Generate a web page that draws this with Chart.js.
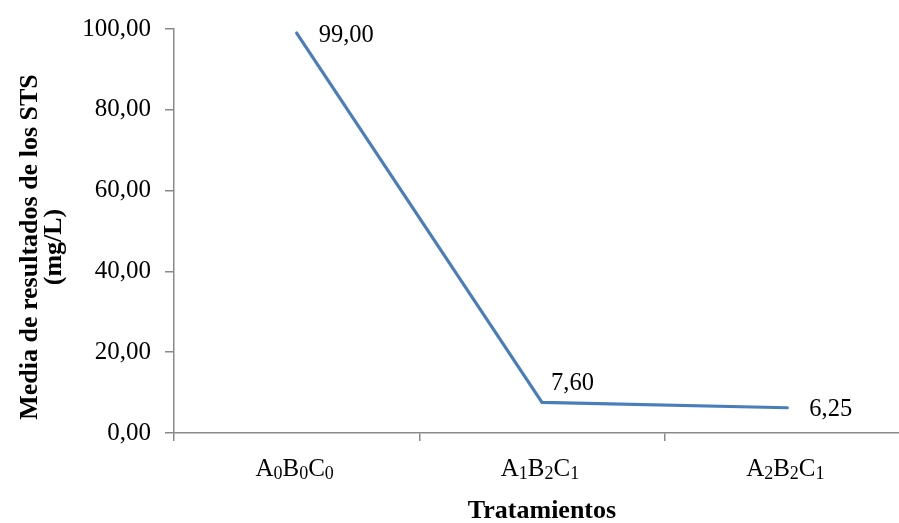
<!DOCTYPE html>
<html>
<head>
<meta charset="utf-8">
<script src="https://cdn.jsdelivr.net/npm/chart.js@4/dist/chart.umd.min.js"></script>
<style>
  html, body { margin: 0; padding: 0; overflow: hidden; background: #ffffff; }
  #c { display: block; }
</style>
</head>
<body>
<canvas id="c" width="910" height="523" style="width:910px;height:523px"></canvas>
<script>
// ---- data ----
const categories = ['A₀B₀C₀', 'A₁B₂C₁', 'A₂B₂C₁'];
const stsValues = [99.00, 7.60, 6.25];
const yTickValues = [0, 20, 40, 60, 80, 100];
const yAxisTitle = ['Media de resultados de los STS', '(mg/L)'];
const xAxisTitle = 'Tratamientos';

const SERIF = "'Liberation Serif', 'Times New Roman', serif";
const AXIS_GRAY = '#898989';
const fmt = v => Number(v).toFixed(2).replace('.', ',');

// data labels next to points
const dataLabelPlugin = {
  id: 'dataLabels',
  afterDatasetsDraw(chart, args, opts) {
    const ctx = chart.ctx;
    const meta = chart.getDatasetMeta(0);
    ctx.save();
    ctx.font = '24.5px ' + SERIF;
    ctx.fillStyle = '#000';
    ctx.textAlign = 'left';
    ctx.textBaseline = 'alphabetic';
    meta.data.forEach((pt, i) => {
      const off = opts.offsets[i];
      ctx.fillText(fmt(chart.data.datasets[0].data[i]), pt.x + off[0], pt.y + off[1]);
    });
    ctx.restore();
  }
};

// x tick labels with subscript digits
const subMap = { '₀':'0','₁':'1','₂':'2','₃':'3','₄':'4','₅':'5','₆':'6','₇':'7','₈':'8','₉':'9' };
const subLabelPlugin = {
  id: 'subLabels',
  afterDraw(chart, args, opts) {
    const ctx = chart.ctx;
    const xs = chart.scales.x;
    const baseFont = opts.baseSize + 'px ' + SERIF;
    const subFont = opts.subSize + 'px ' + SERIF;
    ctx.save();
    ctx.fillStyle = '#000';
    ctx.textAlign = 'left';
    ctx.textBaseline = 'alphabetic';
    chart.data.labels.forEach((lab, i) => {
      const segs = [...lab].map(ch => subMap[ch] !== undefined
        ? { t: subMap[ch], sub: true } : { t: ch, sub: false });
      let total = 0;
      segs.forEach(s => { ctx.font = s.sub ? subFont : baseFont; s.w = ctx.measureText(s.t).width; total += s.w; });
      let x = xs.getPixelForValue(i) - total / 2 + opts.shift;
      segs.forEach(s => {
        ctx.font = s.sub ? subFont : baseFont;
        ctx.fillText(s.t, x, opts.baseline + (s.sub ? opts.subDrop : 0));
        x += s.w;
      });
    });
    ctx.restore();
  }
};

// rotated two-line y axis title
const yTitlePlugin = {
  id: 'yTitle',
  afterDraw(chart, args, opts) {
    const ctx = chart.ctx;
    ctx.save();
    ctx.font = 'bold 26px ' + SERIF;
    ctx.fillStyle = '#000';
    ctx.textAlign = 'center';
    ctx.textBaseline = 'alphabetic';
    opts.text.forEach((line, i) => {
      ctx.save();
      ctx.translate(opts.baselines[i], opts.centerY);
      ctx.rotate(-Math.PI / 2);
      ctx.fillText(line, 0, 0);
      ctx.restore();
    });
    ctx.restore();
  }
};

Chart.defaults.font.family = SERIF;
Chart.defaults.color = '#000';

new Chart(document.getElementById('c'), {
  type: 'line',
  data: {
    labels: categories,
    datasets: [{
      label: 'STS',
      data: stsValues,
      borderColor: '#4A7EBB',
      borderWidth: 3.2,
      borderCapStyle: 'round',
      pointRadius: 0,
      pointHoverRadius: 0,
      tension: 0,
      fill: false
    }]
  },
  options: {
    responsive: false,
    animation: false,
    devicePixelRatio: 1,
    layout: { padding: { top: 25, left: 0, right: 0, bottom: 0 } },
    plugins: {
      legend: { display: false },
      tooltip: { enabled: false },
      dataLabels: { offsets: [[22, 9], [9, -12], [22, 8.5]] },
      subLabels: { baseSize: 25, subSize: 18, baseline: 476, subDrop: 3, shift: -2 },
      yTitle: { text: yAxisTitle, baselines: [37, 61], centerY: 247 }
    },
    scales: {
      x: {
        type: 'category',
        offset: true,
        grid: { offset: true, drawOnChartArea: false, drawTicks: true, tickLength: 8, color: AXIS_GRAY, lineWidth: 1.5 },
        border: { display: true, color: AXIS_GRAY, width: 1.5 },
        ticks: { color: 'rgba(0,0,0,0)', font: { size: 25 }, padding: 14, maxRotation: 0 },
        title: { display: true, text: xAxisTitle, font: { size: 26, weight: 'bold', lineHeight: 0.92 }, padding: 0, color: '#000' },
        afterFit(scale) { scale.height = 90; }
      },
      y: {
        min: 0,
        max: 100,
        afterBuildTicks(scale) { scale.ticks = yTickValues.map(v => ({ value: v })); },
        grid: { drawOnChartArea: false, drawTicks: true, tickLength: 9, color: AXIS_GRAY, lineWidth: 1.5 },
        border: { display: true, color: AXIS_GRAY, width: 1.5 },
        ticks: { font: { size: 25 }, padding: 14, color: '#000', callback: v => fmt(v) },
        afterFit(scale) { scale.width = 174; }
      }
    }
  },
  plugins: [dataLabelPlugin, subLabelPlugin, yTitlePlugin]
});
</script>
</body>
</html>
